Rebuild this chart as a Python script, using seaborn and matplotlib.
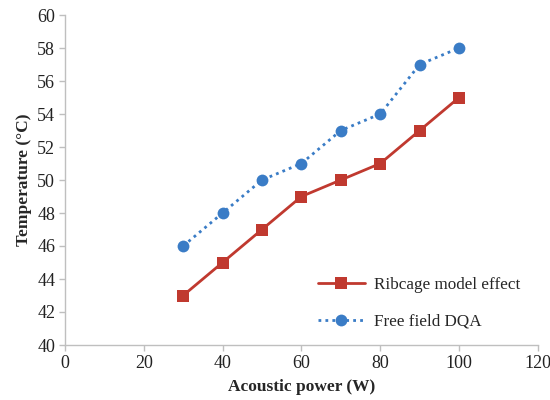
import matplotlib
matplotlib.use("Agg")
import matplotlib.pyplot as plt
import seaborn as sns
import pandas as pd

power = [30, 40, 50, 60, 70, 80, 90, 100]
ribcage = [43, 45, 47, 49, 50, 51, 53, 55]
free_field = [46, 48, 50, 51, 53, 54, 57, 58]
x_ticks = [0, 20, 40, 60, 80, 100, 120]
y_ticks = [40, 42, 44, 46, 48, 50, 52, 54, 56, 58, 60]

sns.set_style("white")
plt.rcParams['font.family'] = ['Liberation Serif', 'DejaVu Serif']

fig = plt.figure(figsize=(5.5, 4), dpi=100)
ax = fig.add_axes([0.118, 0.1375, 0.86, 0.825])

red = "#c0392f"
blue = "#3a7cc6"

df_r = pd.DataFrame({"x": power, "y": ribcage})
df_b = pd.DataFrame({"x": power, "y": free_field})

sns.lineplot(data=df_r, x="x", y="y", ax=ax, color=red, linewidth=2,
             marker="s", markersize=8.5, markeredgewidth=0,
             label="Ribcage model effect")
sns.lineplot(data=df_b, x="x", y="y", ax=ax, color=blue, linewidth=2,
             linestyle=(0, (1, 1.5)), marker="o", markersize=8.5,
             markeredgewidth=0, label="Free field DQA")

ax.set_xlim(0, 120)
ax.set_ylim(40, 60)
ax.set_xticks(x_ticks)
ax.set_yticks(y_ticks)
ax.tick_params(axis="both", labelsize=13, colors="#333333", length=4,
               width=1, direction="out", left=True, bottom=True, pad=3)
for t in ax.get_xticklabels() + ax.get_yticklabels():
    t.set_color("#222222")
for s in ["top", "right"]:
    ax.spines[s].set_visible(False)
for s in ["left", "bottom"]:
    ax.spines[s].set_color("#bfbfbf")
    ax.spines[s].set_linewidth(1)
ax.tick_params(axis="both", color="#bfbfbf")

ax.set_xlabel("Acoustic power (W)", fontsize=12.5, fontweight="bold", labelpad=5)
ax.set_ylabel("Temperature (\u00b0C)", fontsize=12.5, fontweight="bold", labelpad=4)

leg = ax.legend(loc="lower right", bbox_to_anchor=(0.995, 0.0), frameon=False,
                fontsize=12.3, handlelength=2.8, handletextpad=0.5, labelspacing=1.2)

fig.savefig("out.png", dpi=100)
